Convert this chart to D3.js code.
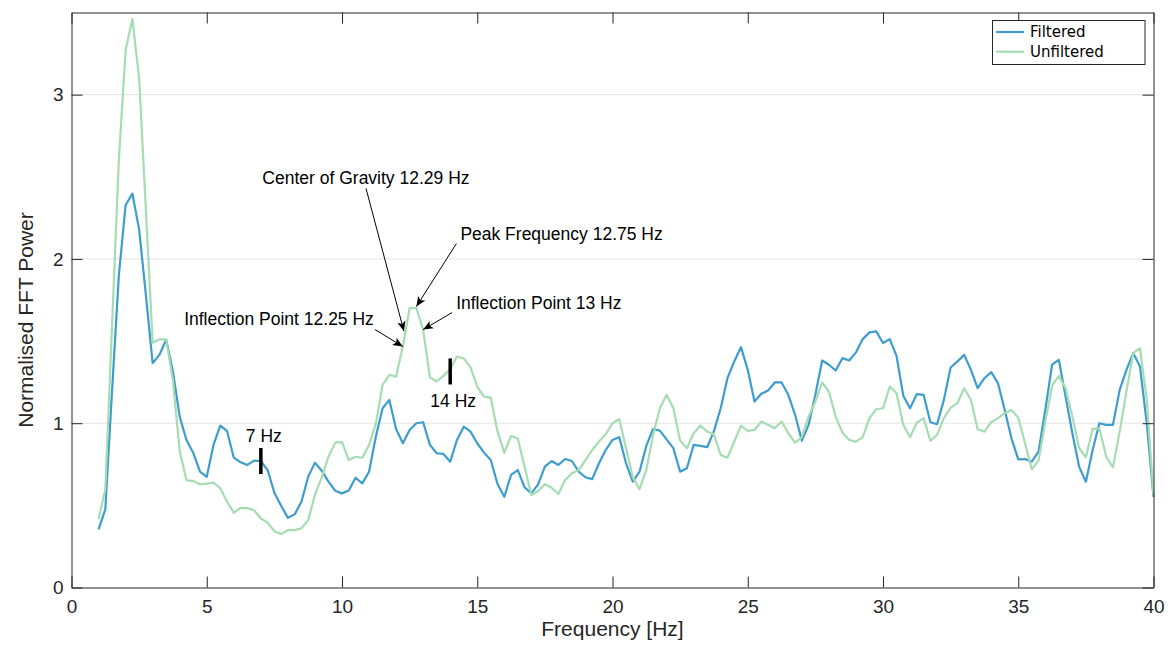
<!DOCTYPE html>
<html>
<head>
<meta charset="utf-8">
<script src="https://cdn.jsdelivr.net/npm/d3@7"></script>
<style>
  body { margin: 0; background: #fff; }
  svg { display: block; }
  .axis path, .axis line { stroke: #262626; }
  .axis text { fill: #262626; font-family: "Liberation Sans", Arial, sans-serif; font-size: 19px; }
  .label { fill: #262626; font-family: "Liberation Sans", Arial, sans-serif; font-size: 21px; }
  .note { fill: #000; font-family: "Liberation Sans", Arial, sans-serif; font-size: 17.5px; }
  .legend text { fill: #000; font-family: "DejaVu Sans", sans-serif; font-size: 15px; }
</style>
</head>
<body>
<svg id="chart" width="1168" height="646"></svg>
<script>
// FFT bins, 1 to 40 Hz in 0.25 Hz steps
var freqs = d3.range(1, 40.001, 0.25);

var filtered = [
    0.354, 0.476, 1.2, 1.9, 2.327, 2.398, 2.18, 1.78,
    1.366, 1.416, 1.508, 1.315, 1.04, 0.898, 0.82, 0.705,
    0.674, 0.868, 0.985, 0.953, 0.79, 0.762, 0.746, 0.772,
    0.77, 0.715, 0.577, 0.498, 0.424, 0.445, 0.522, 0.674,
    0.76, 0.711, 0.644, 0.589, 0.573, 0.59, 0.668, 0.634,
    0.705, 0.918, 1.091, 1.142, 0.965, 0.878, 0.959, 1.0,
    1.006, 0.868, 0.817, 0.813, 0.766, 0.898, 0.979, 0.949,
    0.878, 0.821, 0.776, 0.63, 0.552, 0.685, 0.715, 0.61,
    0.573, 0.628, 0.736, 0.77, 0.746, 0.782, 0.77, 0.705,
    0.671, 0.66, 0.756, 0.837, 0.898, 0.915, 0.756, 0.644,
    0.705, 0.862, 0.965, 0.955, 0.902, 0.848, 0.705, 0.726,
    0.868, 0.862, 0.854, 0.952, 1.091, 1.274, 1.376, 1.463,
    1.325, 1.132, 1.179, 1.199, 1.248, 1.248, 1.173, 1.051,
    0.894, 0.99, 1.173, 1.382, 1.356, 1.321, 1.396, 1.382,
    1.431, 1.512, 1.553, 1.559, 1.488, 1.512, 1.41, 1.167,
    1.091, 1.177, 1.173, 1.006, 0.994, 1.142, 1.339, 1.376,
    1.416, 1.325, 1.213, 1.274, 1.311, 1.244, 1.081, 0.908,
    0.78, 0.782, 0.766, 0.827, 1.081, 1.356, 1.386, 1.162,
    0.939, 0.736, 0.644, 0.837, 1.0, 0.99, 0.99, 1.203,
    1.325, 1.427, 1.345, 1.0, 0.552
];

var unfiltered = [
    0.415, 0.598, 1.6, 2.6, 3.27, 3.46, 3.10, 2.3,
    1.49, 1.51, 1.51, 1.26, 0.83, 0.654, 0.648, 0.628,
    0.632, 0.638, 0.604, 0.522, 0.455, 0.485, 0.483, 0.47,
    0.42, 0.394, 0.343, 0.325, 0.349, 0.349, 0.36, 0.41,
    0.563, 0.67, 0.796, 0.882, 0.885, 0.776, 0.796, 0.79,
    0.868, 0.996, 1.234, 1.294, 1.284, 1.467, 1.701, 1.701,
    1.569, 1.28, 1.254, 1.288, 1.329, 1.406, 1.394, 1.341,
    1.223, 1.162, 1.156, 0.949, 0.821, 0.923, 0.905, 0.735,
    0.563, 0.587, 0.628, 0.607, 0.569, 0.654, 0.695, 0.715,
    0.776, 0.837, 0.888, 0.933, 1.0, 1.024, 0.848, 0.671,
    0.599, 0.715, 0.929, 1.091, 1.173, 1.091, 0.894, 0.848,
    0.939, 0.986, 0.949, 0.932, 0.807, 0.79, 0.888, 0.984,
    0.953, 0.959, 1.01, 0.99, 0.97, 1.01, 0.939, 0.882,
    0.915, 1.04, 1.132, 1.248, 1.193, 1.04, 0.943, 0.898,
    0.888, 0.915, 1.031, 1.085, 1.091, 1.223, 1.183, 0.99,
    0.915, 1.004, 1.031, 0.894, 0.929, 1.031, 1.095, 1.122,
    1.213, 1.142, 0.963, 0.949, 1.006, 1.031, 1.061, 1.081,
    1.034, 0.878, 0.72, 0.772, 1.01, 1.227, 1.288, 1.213,
    1.04, 0.848, 0.793, 0.965, 0.969, 0.797, 0.732, 0.949,
    1.193, 1.427, 1.457, 1.142, 0.563
];

var xTicks = [0, 5, 10, 15, 20, 25, 30, 35, 40];
var yTicks = [0, 1, 2, 3];
var seriesNames = ["Filtered", "Unfiltered"];
var seriesColors = ["#3d9dcc", "#a5dcb1"];

// band markers (bar centred on the curve)
var markers = [
    {label: "7 Hz", f: 7, v: 0.77, above: true},
    {label: "14 Hz", f: 14, v: 1.315, above: false}
];

// arrow annotations: tip in data units, tail offset in px
var notes = [
    {label: "Center of Gravity 12.29 Hz", f: 12.29, v: 1.56, dx: -38, dy: -143, anchor: "middle"},
    {label: "Peak Frequency 12.75 Hz", f: 12.75, v: 1.71, dx: 40, dy: -63, anchor: "start"},
    {label: "Inflection Point 13 Hz", f: 13, v: 1.57, dx: 29, dy: -17, anchor: "start"},
    {label: "Inflection Point 12.25 Hz", f: 12.25, v: 1.467, dx: -28, dy: -17, anchor: "end"}
];

var svg = d3.select("#chart");
var plotL = 71.5, plotR = 1153.5, plotT = 12.5, plotB = 587.5;

var x = d3.scaleLinear().domain([0, 40]).range([plotL, plotR]);
var y = d3.scaleLinear().domain([0, 3.5]).range([plotB, plotT]);

// grid
svg.append("g").selectAll("line").data(yTicks.filter(d => d > 0)).enter().append("line")
    .attr("x1", plotL).attr("x2", plotR)
    .attr("y1", d => y(d)).attr("y2", d => y(d))
    .attr("stroke", "#e3e3e3").attr("stroke-width", 1);

// series
var line = d3.line().x(d => x(d[0])).y(d => y(d[1]));
var data = [filtered, unfiltered];
[0, 1].forEach(function(i) {
    svg.append("path")
        .datum(freqs.map((f, j) => [f, data[i][j]]))
        .attr("fill", "none")
        .attr("stroke", seriesColors[i])
        .attr("stroke-width", 2.2)
        .attr("stroke-linejoin", "round")
        .attr("d", line);
});

// axes, ticks inward like matlab
svg.append("g").attr("class", "axis")
    .attr("transform", `translate(0,${plotB})`)
    .call(d3.axisBottom(x).tickValues(xTicks).tickFormat(d3.format("d")).tickSize(-11).tickPadding(12).tickSizeOuter(0));
svg.append("g").attr("class", "axis")
    .attr("transform", `translate(${plotL},0)`)
    .call(d3.axisLeft(y).tickValues(yTicks).tickFormat(d3.format("d")).tickSize(-11).tickPadding(8).tickSizeOuter(0));
svg.append("g").attr("class", "axis")
    .attr("transform", `translate(0,${plotT})`)
    .call(d3.axisTop(x).tickValues(xTicks).tickSize(-11).tickFormat("").tickSizeOuter(0));
svg.append("g").attr("class", "axis")
    .attr("transform", `translate(${plotR},0)`)
    .call(d3.axisRight(y).tickValues(yTicks).tickSize(-11).tickFormat("").tickSizeOuter(0));
svg.selectAll(".axis text").attr("font-size", null).attr("font-family", null);

svg.append("text").attr("class", "label")
    .attr("x", (plotL + plotR) / 2).attr("y", 636)
    .attr("text-anchor", "middle")
    .text("Frequency [Hz]");
svg.append("text").attr("class", "label")
    .attr("transform", "translate(33,320) rotate(-90)")
    .attr("text-anchor", "middle")
    .text("Normalised FFT Power");

// markers
var mk = svg.append("g");
mk.selectAll("line").data(markers).enter().append("line")
    .attr("x1", d => x(d.f)).attr("x2", d => x(d.f))
    .attr("y1", d => y(d.v) - 13).attr("y2", d => y(d.v) + 13)
    .attr("stroke", "#000").attr("stroke-width", 3.5);
mk.selectAll("text").data(markers).enter().append("text")
    .attr("class", "note")
    .attr("x", d => x(d.f) + 3)
    .attr("y", d => d.above ? y(d.v) - 19 : y(d.v) + 36)
    .attr("text-anchor", "middle")
    .text(d => d.label);

// arrows
svg.append("defs").append("marker")
    .attr("id", "head")
    .attr("viewBox", "0 0 10 10")
    .attr("refX", 10).attr("refY", 5)
    .attr("markerWidth", 10).attr("markerHeight", 10)
    .attr("markerUnits", "userSpaceOnUse")
    .attr("orient", "auto")
    .append("path").attr("d", "M0,0.8L10,5L0,9.2L2.5,5Z").attr("fill", "#000");

var ng = svg.append("g");
notes.forEach(function(d) {
    var tx = x(d.f), ty = y(d.v);
    var sx = tx + d.dx, sy = ty + d.dy;
    ng.append("line")
        .attr("x1", sx).attr("y1", sy).attr("x2", tx).attr("y2", ty)
        .attr("stroke", "#000").attr("stroke-width", 1)
        .attr("marker-end", "url(#head)");
    var lx = d.anchor == "middle" ? sx : (d.anchor == "start" ? sx + 4 : sx - 1);
    ng.append("text").attr("class", "note")
        .attr("x", lx).attr("y", sy - 4)
        .attr("text-anchor", d.anchor)
        .text(d.label);
});

// legend
var lg = svg.append("g").attr("class", "legend");
lg.append("rect")
    .attr("x", 992.5).attr("y", 20.5).attr("width", 152.5).attr("height", 44)
    .attr("fill", "#fff").attr("stroke", "#262626").attr("stroke-width", 1);
seriesNames.forEach(function(name, i) {
    var ly = 32 + i * 19.7;
    lg.append("line")
        .attr("x1", 996).attr("x2", 1024).attr("y1", ly).attr("y2", ly)
        .attr("stroke", seriesColors[i]).attr("stroke-width", 2.2);
    lg.append("text")
        .attr("x", 1030).attr("y", ly).attr("dy", "0.35em")
        .text(name);
});
</script>
</body>
</html>
